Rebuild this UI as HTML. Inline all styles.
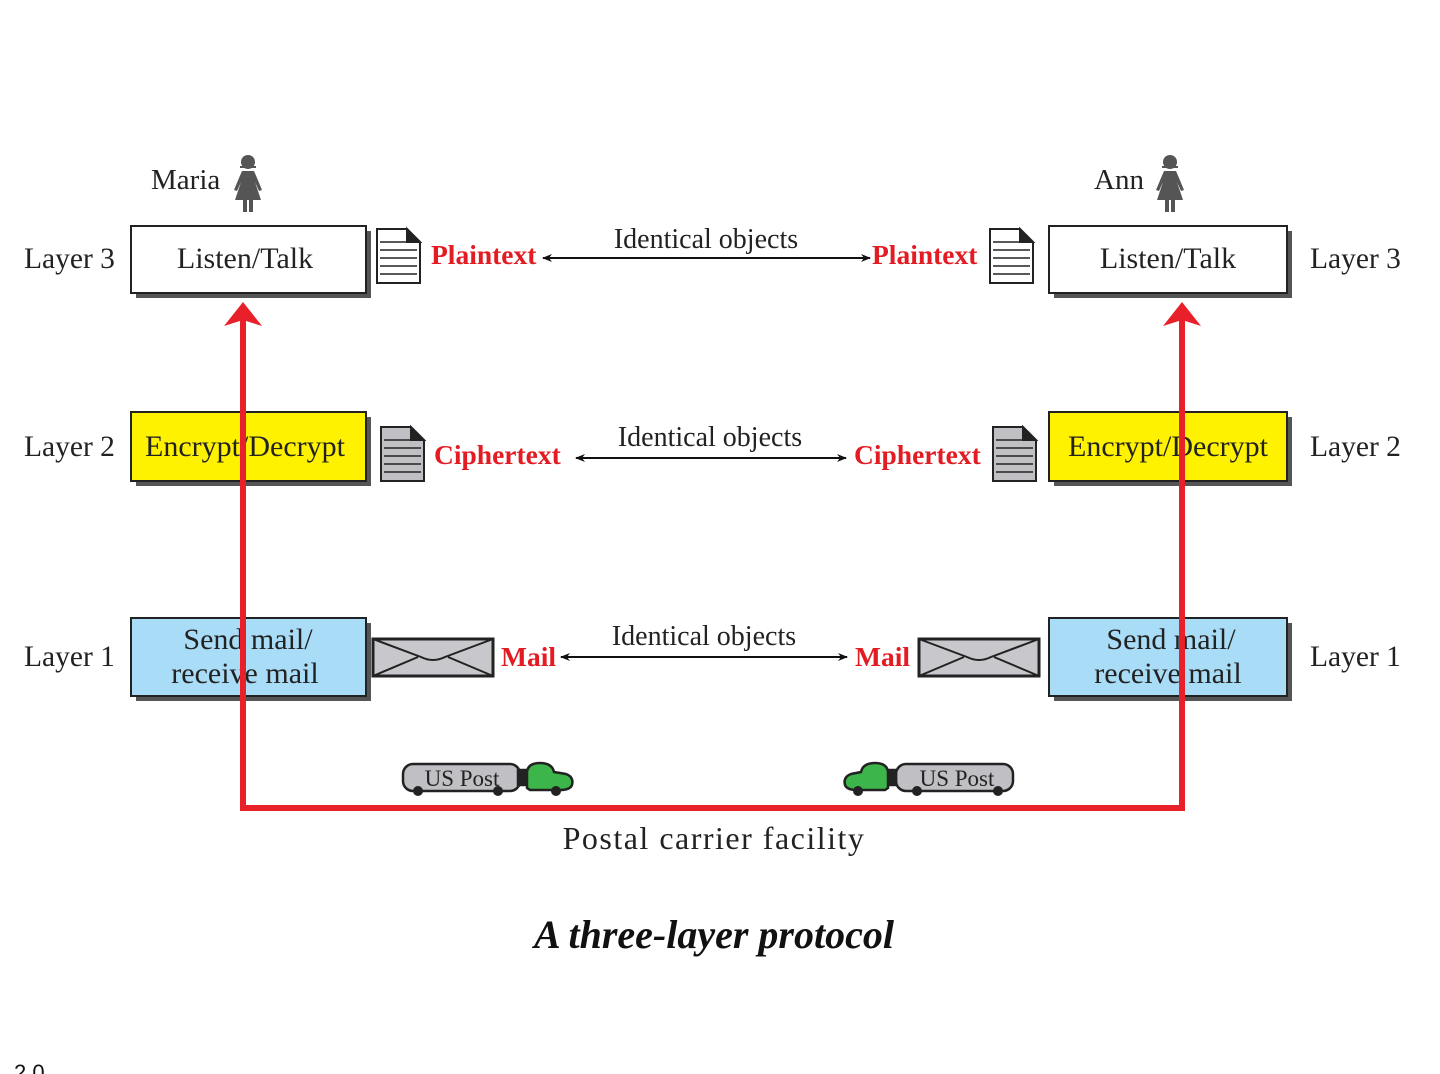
<!DOCTYPE html>
<html><head><meta charset="utf-8"><style>
html,body{margin:0;padding:0;background:#fff;overflow:hidden;}
svg{display:block;}
text{font-family:"Liberation Serif",serif;}
</style></head><body>
<svg width="1440" height="1074" viewBox="0 0 1440 1074" xmlns="http://www.w3.org/2000/svg">
<defs>
<g id="person">
<circle cx="0" cy="-20" r="7" fill="#555"/>
<path d="M-8,-16 H8 V-14 H-8Z" fill="#555"/>
<path d="M-6,-11 H6 L9,-4 L14,8 L11,9 L7,0 L13,18 H-13 L-7,0 L-11,9 L-14,8 L-9,-4Z" fill="#555"/>
<rect x="-5" y="18" width="4" height="12" fill="#555"/><rect x="1" y="18" width="4" height="12" fill="#555"/>
</g>
<g id="env">
<rect x="0" y="0" width="120" height="37" fill="#c8c8cc" stroke="#222" stroke-width="3"/>
<path d="M0,0 L48,18 Q60,24 72,18 L120,0 M0,37 L45,18 M120,37 L75,18" fill="none" stroke="#222" stroke-width="2"/>
</g>
<marker id="ah" markerWidth="10" markerHeight="8" refX="9" refY="4" orient="auto" markerUnits="userSpaceOnUse"><path d="M0,0 L10,4 L0,8 L3,4Z" fill="#111"/></marker>
</defs>

<text x="151" y="189" font-size="29" fill="#222">Maria</text>
<use href="#person" x="248" y="182"/>
<text x="1094" y="189" font-size="29" fill="#222">Ann</text>
<use href="#person" x="1170" y="182"/>

<g font-size="29.5" fill="#222">
<text x="24" y="268">Layer 3</text><text x="1310" y="268">Layer 3</text>
<text x="24" y="456">Layer 2</text><text x="1310" y="456">Layer 2</text>
<text x="24" y="666">Layer 1</text><text x="1310" y="666">Layer 1</text>
</g>

<g>
<rect x="136" y="231" width="235" height="67" fill="#555"/>
<rect x="131" y="226" width="235" height="67" fill="#fff" stroke="#222" stroke-width="2"/>
<rect x="1054" y="231" width="238" height="67" fill="#555"/>
<rect x="1049" y="226" width="238" height="67" fill="#fff" stroke="#222" stroke-width="2"/>
<rect x="136" y="417" width="235" height="69" fill="#555"/>
<rect x="131" y="412" width="235" height="69" fill="#fff200" stroke="#222" stroke-width="2"/>
<rect x="1054" y="417" width="238" height="69" fill="#555"/>
<rect x="1049" y="412" width="238" height="69" fill="#fff200" stroke="#222" stroke-width="2"/>
<rect x="136" y="623" width="235" height="78" fill="#555"/>
<rect x="131" y="618" width="235" height="78" fill="#a9dcf6" stroke="#222" stroke-width="2"/>
<rect x="1054" y="623" width="238" height="78" fill="#555"/>
<rect x="1049" y="618" width="238" height="78" fill="#a9dcf6" stroke="#222" stroke-width="2"/>
</g>
<g font-size="30" fill="#222" text-anchor="middle">
<text x="245" y="268">Listen/Talk</text><text x="1168" y="268">Listen/Talk</text>
<text x="245" y="456">Encrypt/Decrypt</text><text x="1168" y="456">Encrypt/Decrypt</text>
<text x="248" y="649">Send mail/</text><text x="245" y="683">receive mail</text>
<text x="1171" y="649">Send mail/</text><text x="1168" y="683">receive mail</text>
</g>

<g stroke="#222" stroke-width="2">
<path d="M377,229 H407 L420,242 V283 H377Z" fill="#fff"/>
<path d="M407,229 V242 H420Z" fill="#222"/>
<path d="M380,242 H417 M380,250 H417 M380,258 H417 M380,266 H417 M380,274 H417" stroke-width="1.5"/>
<path d="M990,229 H1020 L1033,242 V283 H990Z" fill="#fff"/>
<path d="M1020,229 V242 H1033Z" fill="#222"/>
<path d="M993,242 H1030 M993,250 H1030 M993,258 H1030 M993,266 H1030 M993,274 H1030" stroke-width="1.5"/>
<path d="M381,427 H411 L424,440 V481 H381Z" fill="#c0c0c4"/>
<path d="M411,427 V440 H424Z" fill="#222"/>
<path d="M384,440 H421 M384,448 H421 M384,456 H421 M384,464 H421 M384,472 H421" stroke-width="1.5"/>
<path d="M993,427 H1023 L1036,440 V481 H993Z" fill="#c0c0c4"/>
<path d="M1023,427 V440 H1036Z" fill="#222"/>
<path d="M996,440 H1033 M996,448 H1033 M996,456 H1033 M996,464 H1033 M996,472 H1033" stroke-width="1.5"/>
</g>

<use href="#env" x="373" y="639"/>
<use href="#env" x="919" y="639"/>

<g font-size="27.5" font-weight="bold" fill="#e31b23">
<text x="431" y="264">Plaintext</text>
<text x="872" y="264">Plaintext</text>
<text x="434" y="464">Ciphertext</text>
<text x="854" y="464">Ciphertext</text>
<text x="501" y="666">Mail</text>
<text x="855" y="666">Mail</text>
</g>

<g stroke="#111" stroke-width="2" fill="none">
<line x1="700" y1="258" x2="543" y2="258" marker-end="url(#ah)"/>
<line x1="700" y1="258" x2="870" y2="258" marker-end="url(#ah)"/>
<line x1="710" y1="458" x2="576" y2="458" marker-end="url(#ah)"/>
<line x1="710" y1="458" x2="846" y2="458" marker-end="url(#ah)"/>
<line x1="705" y1="657" x2="561" y2="657" marker-end="url(#ah)"/>
<line x1="705" y1="657" x2="847" y2="657" marker-end="url(#ah)"/>
</g>
<g font-size="28" fill="#222" text-anchor="middle">
<text x="706" y="248">Identical objects</text>
<text x="710" y="446">Identical objects</text>
<text x="704" y="645">Identical objects</text>
</g>

<g stroke="#222" stroke-width="2.5">
<rect x="403" y="764" width="117" height="27" rx="10" fill="#c0c0c4"/>
<rect x="518" y="770" width="10" height="15" fill="#222"/>
<path d="M527,788 V772 Q528,763 540,763 Q552,763 554,772 L566,774 Q574,777 572,785 Q570,790 560,790 H530Z" fill="#3cb54a"/>
<rect x="896" y="764" width="117" height="27" rx="10" fill="#c0c0c4"/>
<rect x="886" y="770" width="10" height="15" fill="#222"/>
<path d="M888,788 V772 Q887,763 875,763 Q863,763 861,772 L851,774 Q843,777 845,785 Q847,790 857,790 H885Z" fill="#3cb54a"/>
</g>
<g fill="#222">
<circle cx="418" cy="791" r="5"/><circle cx="498" cy="791" r="5"/><circle cx="556" cy="791" r="5"/>
<circle cx="917" cy="791" r="5"/><circle cx="998" cy="791" r="5"/><circle cx="858" cy="791" r="5"/>
</g>
<g font-size="23" fill="#222" text-anchor="middle">
<text x="462" y="786">US Post</text>
<text x="957" y="786">US Post</text>
</g>

<path d="M243,320 V808 H1182 V320" fill="none" stroke="#e8202a" stroke-width="6"/>
<path d="M243,302 L262,326 L243,320 L224,326Z" fill="#e8202a"/>
<path d="M1182,302 L1201,326 L1182,320 L1163,326Z" fill="#e8202a"/>

<text x="714" y="849" font-size="32" fill="#222" text-anchor="middle" letter-spacing="1.5">Postal carrier facility</text>
<text x="714" y="948" font-size="40" font-weight="bold" font-style="italic" fill="#111" text-anchor="middle">A three-layer protocol</text>
<text x="14" y="1080" font-size="22" fill="#111" style="font-family:'Liberation Sans',sans-serif">2.0</text>
</svg>
</body></html>
